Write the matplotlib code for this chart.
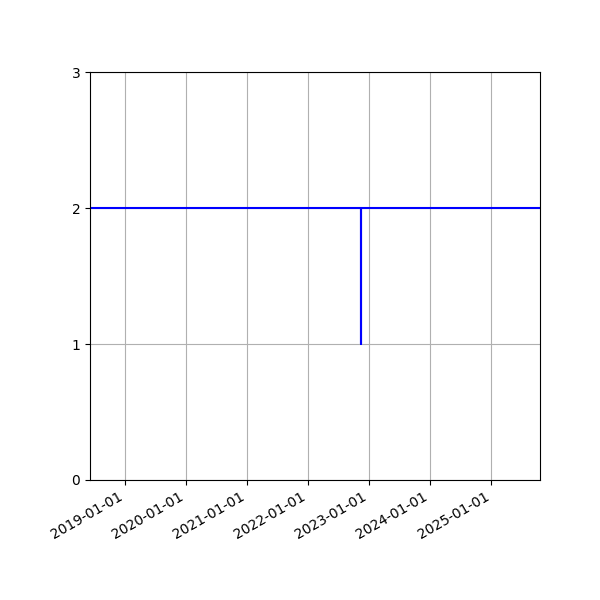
import matplotlib
matplotlib.use('Agg')
import matplotlib.pyplot as plt
import matplotlib.dates as mdates
import numpy as np

# 날짜별 값
dates = np.array(['2018-06-08', '2022-11-16', '2022-11-16', '2022-11-16', '2025-10-19'],
                 dtype='datetime64[D]')
values = [2, 2, 1, 2, 2]
yticks = [0, 1, 2, 3]

fig, ax = plt.subplots(figsize=(6, 6), dpi=100)
fig.subplots_adjust(left=0.15, right=0.9, top=0.88, bottom=0.2)

ax.plot(dates, values, color='blue', linewidth=1.5)
ax.set_xlim(dates[0], dates[-1])
ax.set_ylim(0, 3)
ax.set_yticks(yticks)
ax.xaxis.set_major_locator(mdates.YearLocator())
ax.xaxis.set_major_formatter(mdates.DateFormatter('%Y-%m-%d'))
ax.grid(True, color='#b0b0b0')
for lbl in ax.get_xticklabels():
    lbl.set_rotation(30)
    lbl.set_ha('right')

fig.savefig('out.png')
